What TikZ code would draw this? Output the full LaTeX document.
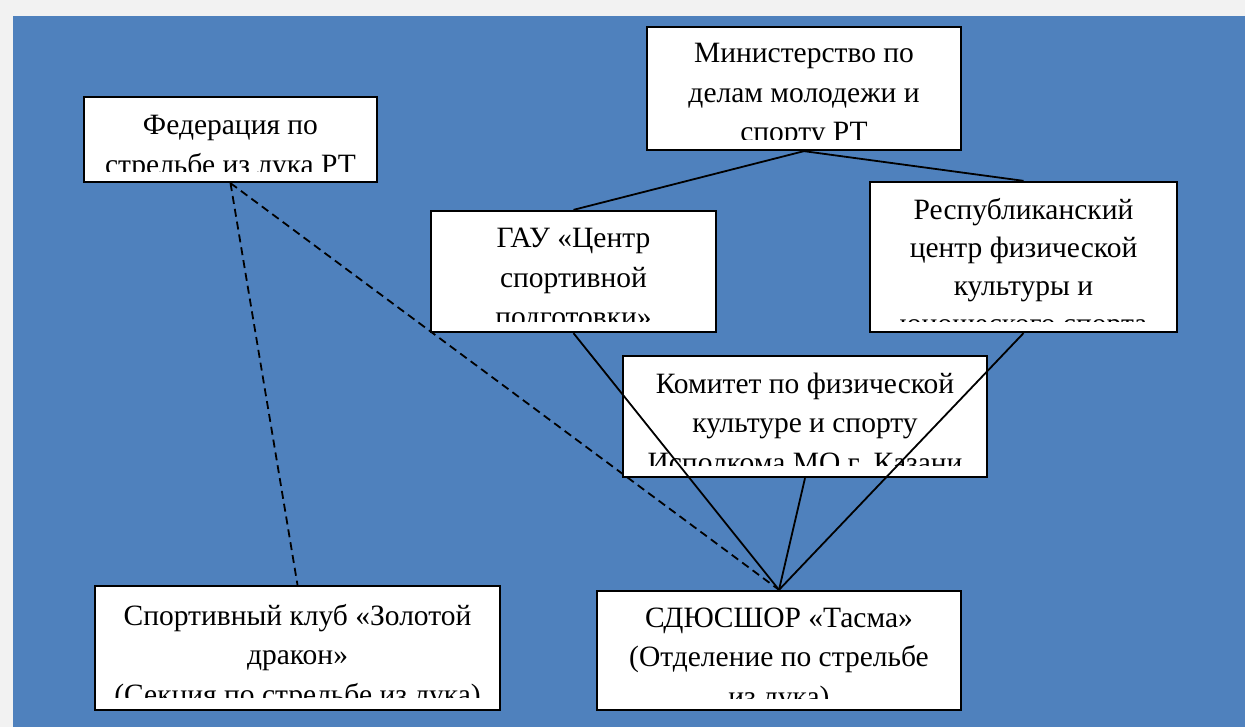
\documentclass[tikz,border=0pt]{standalone}
\usepackage{fontspec}
\setmainfont{Liberation Serif}
\usepackage{xcolor}
\definecolor{bgblue}{RGB}{79,129,189}
\definecolor{pagegray}{RGB}{242,242,242}
\tikzset{
  orgbox/.style={draw=black, line width=2.3pt, fill=white, inner sep=0pt},
  orgtext/.style={inner sep=0pt, align=flush center, anchor=base, font=\fontsize{29.5}{39.5}\selectfont},
  link/.style={line width=1.8pt},
  dlink/.style={line width=1.8pt, dash pattern=on 8pt off 5pt}
}

\begin{document}
\begin{tikzpicture}[x=1pt,y=-1pt]
\useasboundingbox (0,0) rectangle (1245,727);
\fill [pagegray] (0,0) rectangle (1245,727);
\fill [bgblue] (13,16) rectangle (1245,727);

% boxes
\node [orgbox, minimum width=293pt, minimum height=85pt] (fed) at (230.5,139.5) {};
\node [orgbox, minimum width=314pt, minimum height=123pt] (min) at (804,88.5) {};
\node [orgbox, minimum width=285pt, minimum height=121pt] (gau) at (573.5,271.5) {};
\node [orgbox, minimum width=307pt, minimum height=150pt] (rep) at (1023.5,257) {};
\node [orgbox, minimum width=364pt, minimum height=121pt] (kom) at (805,416.5) {};
\node [orgbox, minimum width=405pt, minimum height=124pt] (club) at (297.5,648) {};
\node [orgbox, minimum width=364pt, minimum height=119pt] (sdu) at (779,650.5) {};

% texts, cut at the lower margin of each box
\begin{scope}
\clip (86,99) rectangle (375,172);
\node [orgtext, text width=273pt] (fedtext) at (230.5,135) {Федерация по\\стрельбе из лука РТ};
\end{scope}
\begin{scope}
\clip (649,29) rectangle (959,140);
\node [orgtext, text width=294pt] (mintext) at (804,63) {Министерство по\\делам молодежи и\\спорту РТ};
\end{scope}
\begin{scope}
\clip (433,213) rectangle (714,322);
\node [orgtext, text width=265pt] (gautext) at (573.5,248) {ГАУ «Центр\\спортивной\\подготовки»};
\end{scope}
\begin{scope}
\clip (872,184) rectangle (1175,321.5);
\node [orgtext, text width=287pt, font=\fontsize{29.5}{38}\selectfont] (reptext) at (1023.5,220) {Республиканский\\центр физической\\культуры и\\юношеского спорта};
\end{scope}
\begin{scope}
\clip (625,358) rectangle (985,465);
\node [orgtext, text width=344pt] (komtext) at (805,393) {Комитет по физической\\культуре и спорту\\Исполкома МО г. Казани};
\end{scope}
\begin{scope}
\clip (97,588) rectangle (498,697);
\node [orgtext, text width=385pt] (clubtext) at (297.5,625) {Спортивный клуб «Золотой\\дракон»\\(Секция по стрельбе из лука)};
\end{scope}
\begin{scope}
\clip (599,593) rectangle (959,698);
\node [orgtext, text width=344pt] (sdutext) at (779,627) {СДЮСШОР «Тасма»\\(Отделение по стрельбе\\из лука)};
\end{scope}

% links
\draw [link] (min.south) -- (gau.north);
\draw [link] (min.south) -- (rep.north);
\draw [link] (gau.south) -- (sdu.north);
\draw [link] (kom.south) -- (sdu.north);
\draw [link] (rep.south) -- (sdu.north);
\draw [dlink] (fed.south) -- (sdu.north);
\draw [dlink] (fed.south) -- (club.north);
\end{tikzpicture}
\end{document}
